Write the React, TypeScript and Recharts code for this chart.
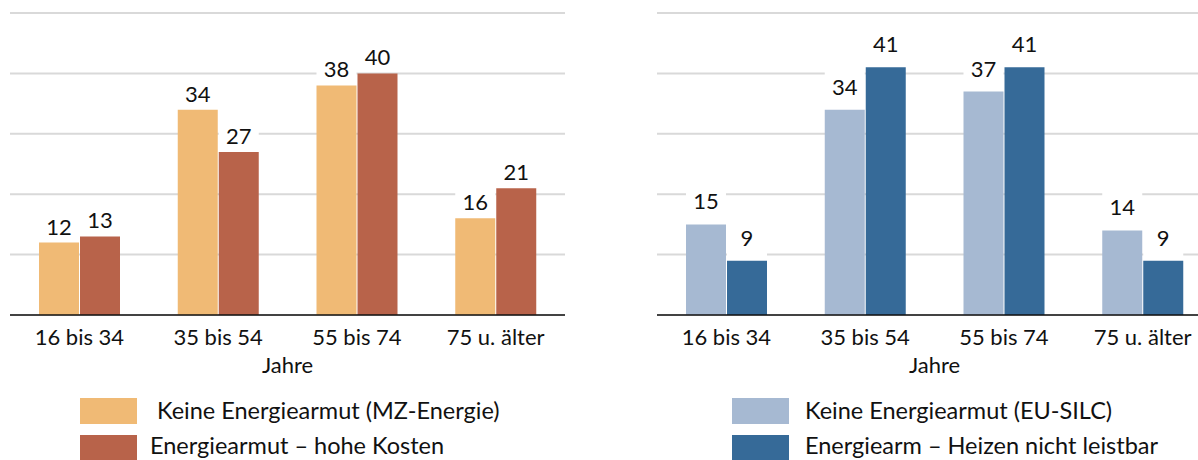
import React from 'react';
import { BarChart, Bar, XAxis, YAxis, CartesianGrid, LabelList } from 'recharts';

const categories = ['16 bis 34', '35 bis 54', '55 bis 74', '75 u. älter'];
const mzKeine = [12, 34, 38, 16];
const mzKosten = [13, 27, 40, 21];
const silcKeine = [15, 34, 37, 14];
const silcHeizen = [9, 41, 41, 9];
const yTicks = [0, 10, 20, 30, 40, 50];

const leftLegend = ['Keine Energiearmut (MZ-Energie)', 'Energiearmut – hohe Kosten'];
const rightLegend = ['Keine Energiearmut (EU-SILC)', 'Energiearm – Heizen nicht leistbar'];

const FONT = 'Lato, "Noto Sans", sans-serif';

const makeLabel = (gap: number) => (props: any) => {
  const { x, y, width, value } = props;
  const cx = x + width / 2;
  return (
    <g>
      <rect x={x} y={y - gap - 23} width={width} height={gap + 20} fill="#fff" />
      <text x={cx} y={y - gap} textAnchor="middle" fontSize={22} fontFamily={FONT} fill="#111">
        {value}
      </text>
    </g>
  );
};

interface PanelProps {
  a: number[];
  b: number[];
  colorA: string;
  colorB: string;
  labelGap: number;
}

const Panel: React.FC<PanelProps> = ({ a, b, colorA, colorB, labelGap }) => {
  const data = categories.map((c, i) => ({ name: c, a: a[i], b: b[i] }));
  const label = makeLabel(labelGap);
  return (
    <BarChart
      width={600}
      height={460}
      data={data}
      margin={{ top: 13, right: 35, left: 10, bottom: 0 }}
      barSize={40}
      barGap={1}
    >
      <CartesianGrid vertical={false} stroke="#d9d9d9" strokeWidth={2} />
      <YAxis hide domain={[0, 50]} ticks={yTicks} />
      <XAxis
        dataKey="name"
        height={145}
        tickLine={false}
        axisLine={{ stroke: '#111', strokeWidth: 1.5 }}
        tickMargin={8}
        tick={{ fill: '#111', fontSize: 22, fontFamily: FONT }}
        label={{ value: 'Jahre', position: 'insideTop', offset: 42, fill: '#111', fontSize: 22, fontFamily: FONT }}
      />
      <Bar dataKey="a" fill={colorA} isAnimationActive={false}>
        <LabelList dataKey="a" content={label} />
      </Bar>
      <Bar dataKey="b" fill={colorB} isAnimationActive={false}>
        <LabelList dataKey="b" content={label} />
      </Bar>
    </BarChart>
  );
};

const LegendBlock: React.FC<{ left: number; textLeft: number[]; labels: string[]; colors: string[] }> = ({ left, textLeft, labels, colors }) => (
  <>
    {labels.map((l, i) => (
      <React.Fragment key={l}>
        <div style={{ position: 'absolute', left, top: 398 + i * 37, width: 57, height: 26, background: colors[i] }} />
        <div
          style={{
            position: 'absolute',
            left: textLeft[i],
            top: 397 + i * 35,
            height: 26,
            lineHeight: '26px',
            fontSize: 23.5,
            fontFamily: FONT,
            color: '#111',
            whiteSpace: 'nowrap',
          }}
        >
          {l}
        </div>
      </React.Fragment>
    ))}
  </>
);

export default function App() {
  return (
    <div style={{ position: 'fixed', left: 0, top: 0, width: 1198, height: 460, overflow: 'hidden', background: '#fff' }}>
      <div style={{ position: 'absolute', left: 0, top: 0 }}>
        <Panel a={mzKeine} b={mzKosten} colorA="#f0ba75" colorB="#b8634a" labelGap={8} />
      </div>
      <div style={{ position: 'absolute', left: 647, top: 0 }}>
        <Panel a={silcKeine} b={silcHeizen} colorA="#a6b9d2" colorB="#366a98" labelGap={15} />
      </div>
      <LegendBlock left={80} textLeft={[157, 150]} labels={leftLegend} colors={['#f0ba75', '#b8634a']} />
      <LegendBlock left={732} textLeft={[805, 805]} labels={rightLegend} colors={['#a6b9d2', '#366a98']} />
    </div>
  );
}
